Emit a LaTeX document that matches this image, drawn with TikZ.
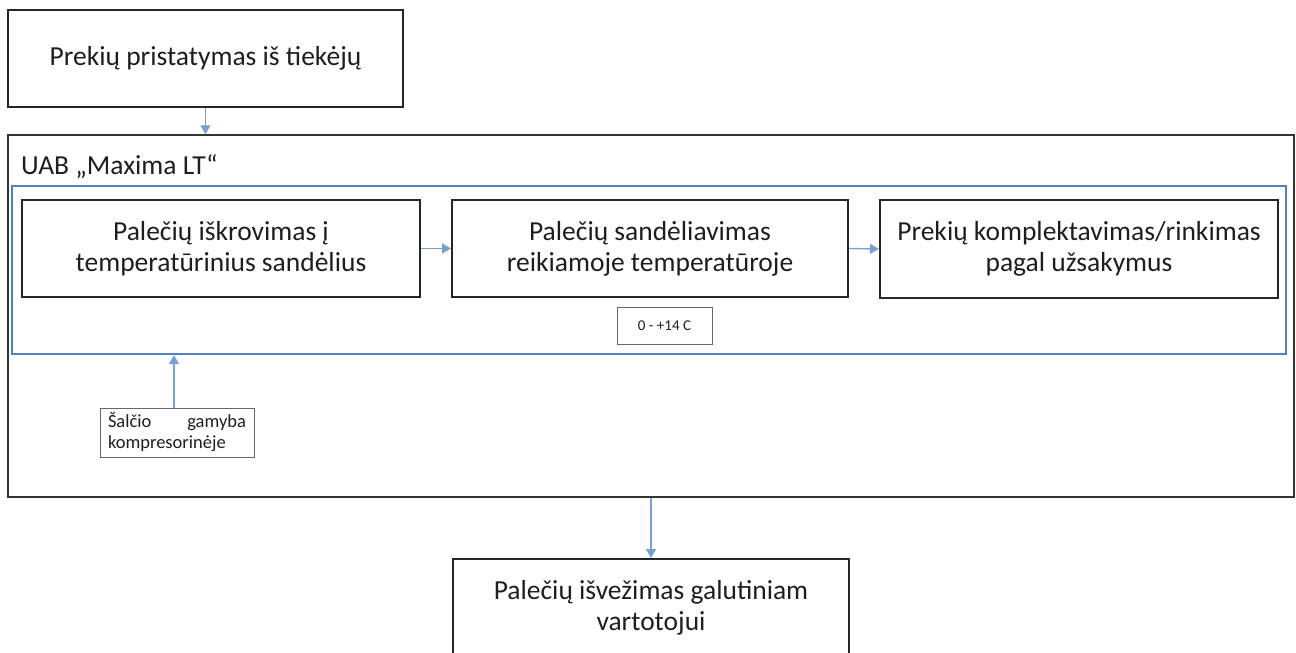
\documentclass[tikz,border=0pt]{standalone}
\usepackage{fontspec}
\setmainfont{Carlito}
\usetikzlibrary{arrows.meta}
\definecolor{bluebox}{RGB}{79,129,189}
\definecolor{arrowblue}{RGB}{120,160,210}
\definecolor{txt}{RGB}{30,30,30}
\begin{document}
\begin{tikzpicture}[x=1pt,y=-1pt,
  every node/.style={text=txt},
  stepbox/.style={draw=black!85, line width=2pt, align=center, inner sep=0pt, font=\fontsize{27.5}{31}\selectfont},
  smallbox/.style={draw=black!60, line width=0.9pt, inner sep=0pt},
  flow/.style={draw=arrowblue, line width=1.4pt, -{Triangle[width=10pt,length=9pt]}}
]
\useasboundingbox (0,0) rectangle (1296,653);
\clip (0,0) rectangle (1296,653);
\node[stepbox, minimum width=395pt, minimum height=97pt] (top) at (205.5,58.5) {Prekių pristatymas iš tiekėjų};
\node[draw=black!80, line width=1.5pt, minimum width=1286pt, minimum height=362pt, inner sep=0pt] (outer) at (651,316) {};
\node[anchor=base west, font=\fontsize{27.5}{31}\selectfont, inner sep=0pt] (uab) at (21,174) {UAB „Maxima LT“};
\node[draw=bluebox, line width=2.2pt, minimum width=1274pt, minimum height=168pt, inner sep=0pt] (blue) at (649,270) {};
\node[stepbox, minimum width=398pt, minimum height=97pt] (b1) at (221,248.5) {Palečių iškrovimas į\\temperatūrinius sandėlius};
\node[stepbox, minimum width=396pt, minimum height=97pt] (b2) at (650,248.5) {Palečių sandėliavimas\\reikiamoje temperatūroje};
\node[stepbox, minimum width=398pt, minimum height=98pt] (b3) at (1079,249) {Prekių komplektavimas/rinkimas\\pagal užsakymus};
\node[smallbox, minimum width=95pt, minimum height=37pt, font=\fontsize{15}{18}\selectfont] (temp) at (664.5,325.5) {0 - +14 C};
\node[smallbox, minimum width=154pt, minimum height=49pt, font=\fontsize{18.5}{21}\selectfont] (small) at (177,432.5) {\parbox{138pt}{Šalčio\hfill gamyba\\kompresorinėje}};
\node[stepbox, minimum width=396pt, minimum height=97pt] (bottom) at (651,607.5) {Palečių išvežimas galutiniam\\vartotojui};
\draw[flow] (top.south) -- (top.south|-outer.north);
\draw[flow] (b1.east) -- (b2.west);
\draw[flow] (b2.east) -- (b3.west);
\draw[flow] ([xshift=-3pt]small.north) -- ([xshift=-3pt]small.north|-blue.south);
\draw[flow] (bottom.north|-outer.south) -- (bottom.north);
\end{tikzpicture}
\end{document}
